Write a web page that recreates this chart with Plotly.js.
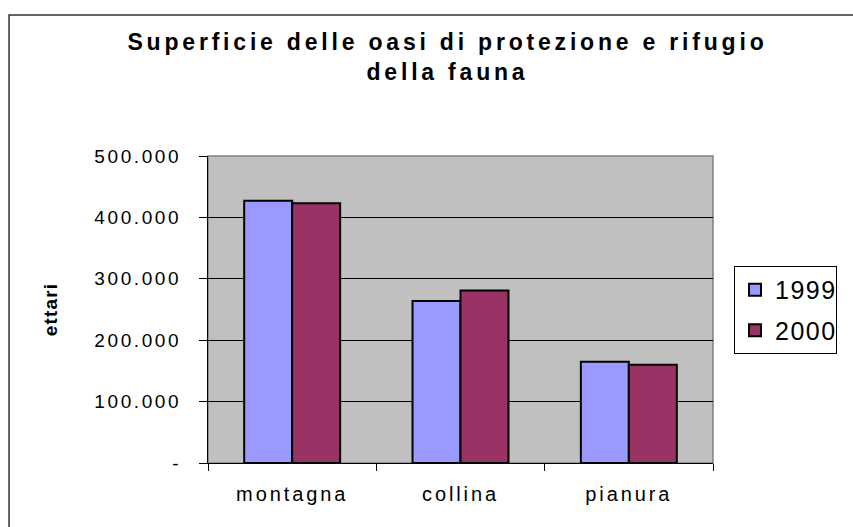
<!DOCTYPE html>
<html>
<head>
<meta charset="utf-8">
<script src="https://cdn.plot.ly/plotly-3.0.1.min.js"></script>
<style>
  html, body { margin: 0; padding: 0; background: #fff; }
  #chart { width: 853px; height: 527px; }
  #chart text.gtitle { letter-spacing: 3.8px; }
  #chart .ytick text { letter-spacing: 2.6px; }
  #chart .xtick text { letter-spacing: 2.9px; }
  #chart .legendtext { letter-spacing: 1.5px; }
  #chart .ytitle { letter-spacing: 1.2px; }
</style>
</head>
<body>
<div id="chart"></div>
<script>
// Data
var categories = ["montagna", "collina", "pianura"];
var seriesNames = ["1999", "2000"];
var values1999 = [427000, 264000, 165000];
var values2000 = [423000, 281000, 160000];
var yTickVals = [0, 100000, 200000, 300000, 400000, 500000];
var yTickText = ["-", "100.000", "200.000", "300.000", "400.000", "500.000"];
var titleText = "Superficie delle oasi di protezione e rifugio<br>della fauna";
var yTitle = "ettari";

var FONT = "Liberation Sans, Arial, sans-serif";

var traces = [
  {
    type: "bar", name: seriesNames[0], x: categories, y: values1999,
    legendgroup: "a",
    marker: { color: "#9999FF", line: { color: "#000000", width: 2 } }
  },
  {
    type: "bar", name: seriesNames[1], x: categories, y: values2000,
    legendgroup: "b",
    marker: { color: "#993366", line: { color: "#000000", width: 2 } }
  }
];

var layout = {
  width: 853, height: 527,
  margin: { l: 208, r: 140, t: 156, b: 64, pad: 0 },
  paper_bgcolor: "#ffffff",
  plot_bgcolor: "#c0c0c0",
  font: { family: FONT, color: "#000000" },
  barmode: "group",
  bargap: 0.43,
  bargroupgap: 0,
  title: {
    text: titleText,
    font: { family: FONT, size: 23, weight: "bold", color: "#000000" },
    xref: "container", x: 0.5246, xanchor: "center",
    yref: "container", y: 0.905, yanchor: "top"
  },
  xaxis: {
    type: "category",
    tickson: "boundaries",
    ticks: "outside", ticklen: 7, tickcolor: "#000", tickwidth: 1,
    showline: true, linecolor: "#000", linewidth: 1,
    showgrid: false,
    tickfont: { family: FONT, size: 20, color: "#000" },
    ticklabelstandoff: 13,
    fixedrange: true
  },
  yaxis: {
    range: [0, 500000],
    tickvals: yTickVals, ticktext: yTickText,
    ticks: "outside", ticklen: 8, tickcolor: "#000", tickwidth: 1,
    showline: true, linecolor: "#000", linewidth: 1,
    showgrid: true, gridcolor: "#000000", gridwidth: 1,
    zeroline: false,
    tickfont: { family: FONT, size: 19, color: "#000" },
    ticklabelstandoff: 14,
    automargin: true,
    title: { text: yTitle, standoff: 49, font: { family: FONT, size: 19, weight: "bold", color: "#000" } },
    fixedrange: true
  },
  showlegend: true,
  legend: {
    x: 1.0416, xanchor: "left",
    y: 0.6417, yanchor: "top",
    bgcolor: "#ffffff", bordercolor: "#000000", borderwidth: 1,
    font: { family: FONT, size: 25, color: "#000" },
    traceorder: "grouped",
    tracegroupgap: 5
  },
  shapes: [
    {
      type: "rect", xref: "paper", yref: "paper",
      x0: 0, x1: 1, y0: 0, y1: 1,
      line: { color: "#808080", width: 1.5 }, fillcolor: "rgba(0,0,0,0)", layer: "below"
    },
    {
      type: "rect", xref: "paper", yref: "paper",
      x0: -0.394, x1: 1.4, y0: -0.3, y1: 1.459,
      line: { color: "#333333", width: 1.5 }, fillcolor: "rgba(0,0,0,0)", layer: "above"
    }
  ]
};

Plotly.newPlot("chart", traces, layout, { displayModeBar: false, staticPlot: true });
</script>
</body>
</html>
